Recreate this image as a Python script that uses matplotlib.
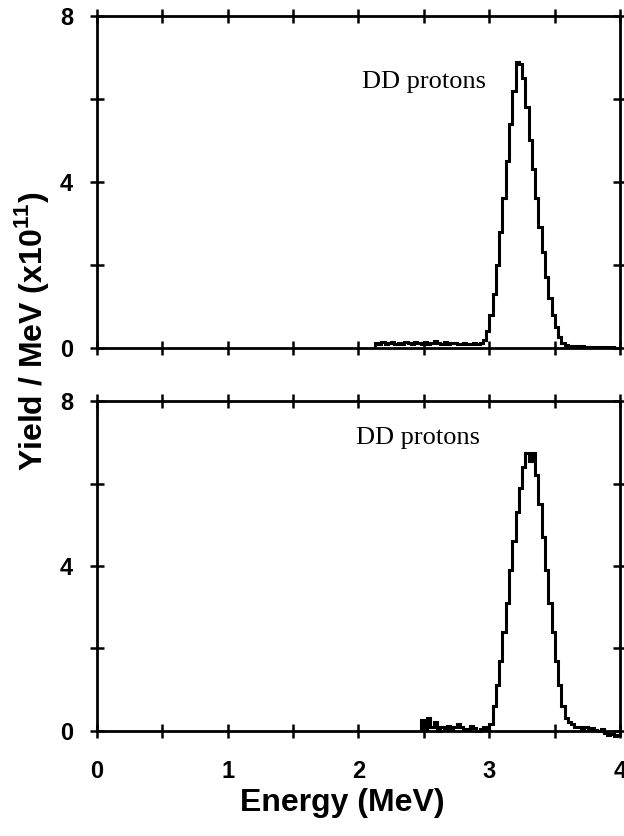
import numpy as np
import matplotlib.pyplot as plt
from matplotlib.ticker import MultipleLocator

plt.rcParams['font.family'] = 'Liberation Sans'
plt.rcParams['font.weight'] = 'bold'
plt.rcParams['xtick.labelsize'] = 17
plt.rcParams['ytick.labelsize'] = 17
plt.rcParams['mathtext.fontset'] = 'custom'
plt.rcParams['mathtext.bf'] = 'Liberation Sans:bold'
plt.rcParams['mathtext.rm'] = 'Liberation Sans:bold'

# bin width (MeV) and first bin edge of each spectrum
bin_width = 0.025
top_start = 2.125
bottom_start = 2.475

# yield / MeV (x1e11), top spectrum
top_yield = [0.12, 0.10, 0.14, 0.09, 0.11, 0.13, 0.08, 0.12, 0.10, 0.15,
             0.11, 0.09, 0.13, 0.12, 0.10, 0.14, 0.08, 0.11, 0.16, 0.12,
             0.10, 0.13, 0.09, 0.12, 0.11, 0.10, 0.08, 0.12, 0.10, 0.09,
             0.11, 0.10, 0.12, 0.18,
             0.4, 0.8, 1.3, 2.0, 2.8, 3.6, 4.5, 5.4, 6.2, 6.9,
             6.85, 6.5, 5.8, 5.0, 4.3, 3.6, 2.9, 2.3, 1.7, 1.2,
             0.8, 0.5, 0.25, 0.12, 0.07,
             0.05, 0.04, 0.05, 0.03, 0.04, 0.03, 0.02, 0.03, 0.02, 0.02,
             0.01, 0.02, 0.01, 0.01, 0.0, 0.0]

# yield / MeV (x1e11), bottom spectrum
bottom_yield = [0.25, 0.05, 0.30, 0.10, 0.20, 0.0, 0.08, 0.05, 0.12, 0.03,
                0.08, 0.15, 0.10, 0.02, 0.05, 0.12, 0.06, 0.0, 0.04, 0.08,
                0.03,
                0.15, 0.6, 1.1, 1.7, 2.4, 3.1, 3.9, 4.6, 5.3, 5.9,
                6.4, 6.75, 6.55, 6.75, 6.2, 5.5, 4.7, 3.9, 3.1, 2.4,
                1.7, 1.1, 0.6, 0.3, 0.2, 0.15, 0.1,
                0.08, 0.05, 0.10, 0.03, 0.06, 0.02, 0.0, 0.04, -0.05, -0.1,
                -0.08, -0.12, -0.1]

panels = [(top_start, top_yield, (2.03, 6.4)),
          (bottom_start, bottom_yield, (1.98, 7.1))]

fig = plt.figure(figsize=(6.24, 8.36), dpi=100)
ax_top = fig.add_axes([0.155, 0.584, 0.839, 0.397])
ax_bot = fig.add_axes([0.155, 0.126, 0.839, 0.394])

for ax, (start, vals, txt) in zip([ax_top, ax_bot], panels):
    edges = start + bin_width * np.arange(len(vals) + 1)
    ax.stairs(vals, edges, color='black', lw=2.2, clip_on=False)
    ax.text(txt[0], txt[1], "DD protons", family='Liberation Serif',
            fontweight='normal', fontsize=19, ha='left', va='center')
    ax.set_xlim(0, 4)
    ax.set_ylim(0, 8)
    ax.xaxis.set_major_locator(MultipleLocator(1))
    ax.xaxis.set_minor_locator(MultipleLocator(0.5))
    ax.yaxis.set_major_locator(MultipleLocator(4))
    ax.yaxis.set_minor_locator(MultipleLocator(2))
    for s in ax.spines.values():
        s.set_linewidth(2)
    ax.tick_params(which='both', direction='inout', length=10, width=1.8,
                   top=True, right=True)
    ax.tick_params(axis='x', pad=16)
    ax.tick_params(axis='y', pad=12)

ax_top.tick_params(axis='x', labelbottom=False)

fig.text(0.548, 0.0395, "Energy (MeV)", fontsize=23, fontweight='bold',
         ha='center', va='center')
fig.text(0.05, 0.603, r"Yield / MeV (x10$^{\mathbf{11}}$)", rotation=90,
         fontsize=23, fontweight='bold', ha='center', va='center')

plt.savefig("out.png", dpi=100)
plt.close()
